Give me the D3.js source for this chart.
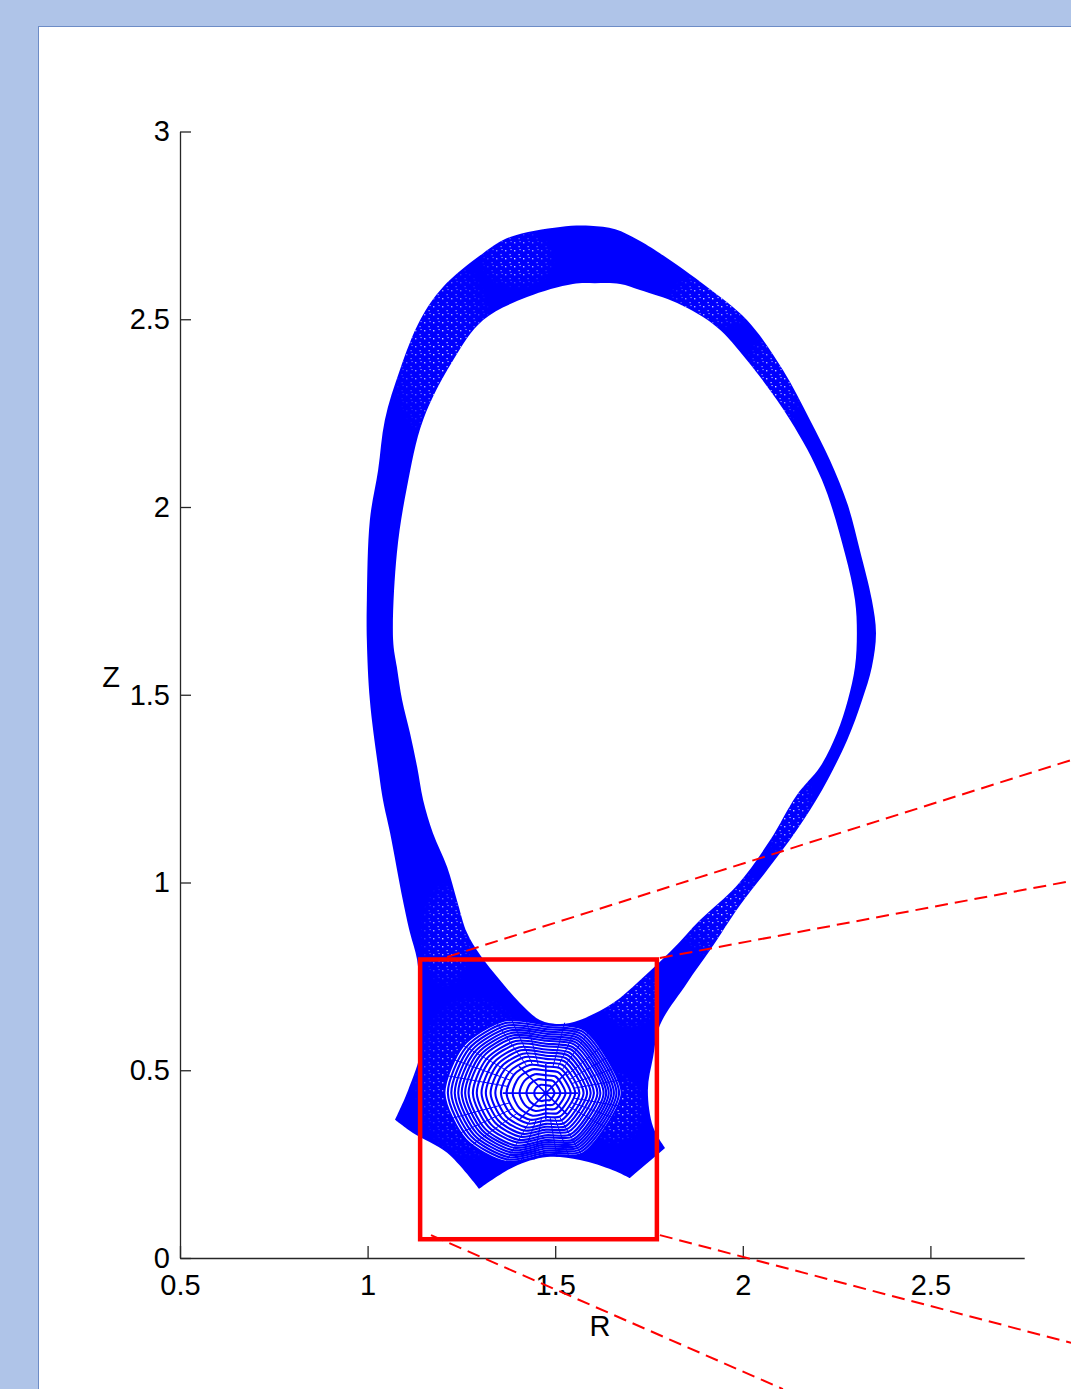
<!DOCTYPE html>
<html>
<head>
<meta charset="utf-8">
<script src="https://cdn.jsdelivr.net/npm/d3@7"></script>
<style>
  html, body { margin: 0; padding: 0; background: #afc4e8; }
  svg { display: block; }
  text { font-family: "Liberation Sans", Arial, Helvetica, sans-serif; fill: #000; }
</style>
</head>
<body>
<svg id="fig" width="1071" height="1389"></svg>
<script>
// ---- axis settings ----
const rDomain = [0.5, 2.75];
const zDomain = [0, 3];
const rTicks = [0.5, 1, 1.5, 2, 2.5];
const zTicks = [0, 0.5, 1, 1.5, 2, 2.5, 3];
const rTickLabels = ["0.5", "1", "1.5", "2", "2.5"];
const zTickLabels = ["0", "0.5", "1", "1.5", "2", "2.5", "3"];

// ---- grid envelope (R, Z) : outer edge of the whole grid ----
// corner points of the divertor legs are listed twice to keep them sharp
const outerEdge = [
  [1.593, 2.749], [1.513, 2.746], [1.380, 2.719], [1.308, 2.676], [1.201, 2.586],
  [1.140, 2.498], [1.086, 2.365], [1.046, 2.232], [1.028, 2.098], [1.006, 1.965],
  [0.998, 1.752], [0.998, 1.646], [1.006, 1.486], [1.028, 1.308], [1.041, 1.220],
  [1.060, 1.132], [1.094, 0.953], [1.113, 0.866], [1.132, 0.794], [1.140, 0.687],
  [1.142, 0.554], [1.108, 0.447], [1.073, 0.368], [1.073, 0.368], [1.121, 0.333],
  [1.212, 0.280], [1.297, 0.184], [1.297, 0.184], [1.388, 0.242], [1.478, 0.269],
  [1.566, 0.261], [1.654, 0.234], [1.699, 0.213], [1.699, 0.213], [1.793, 0.293],
  [1.793, 0.293], [1.761, 0.349], [1.747, 0.447], [1.761, 0.535],
  [1.779, 0.620], [1.851, 0.732], [1.913, 0.820], [1.993, 0.940], [2.065, 1.033],
  [2.144, 1.140], [2.211, 1.246], [2.278, 1.379], [2.318, 1.486], [2.344, 1.574],
  [2.355, 1.664], [2.344, 1.752], [2.312, 1.885], [2.280, 2.005], [2.232, 2.125],
  [2.179, 2.232], [2.107, 2.365], [2.011, 2.498], [1.905, 2.586], [1.779, 2.676],
  [1.720, 2.712], [1.660, 2.740]
];

// ---- inner edge : boundary of the core (empty) region ----
const coreEdge = [
  [1.606, 2.596], [1.547, 2.594], [1.425, 2.559], [1.308, 2.498], [1.228, 2.391],
  [1.148, 2.232], [1.105, 2.053], [1.078, 1.877], [1.068, 1.646], [1.078, 1.574],
  [1.092, 1.486], [1.113, 1.398], [1.132, 1.308], [1.148, 1.220], [1.174, 1.132],
  [1.212, 1.041], [1.238, 0.953], [1.265, 0.866], [1.300, 0.807], [1.353, 0.740],
  [1.406, 0.679], [1.459, 0.634], [1.513, 0.623], [1.566, 0.634], [1.654, 0.679],
  [1.726, 0.740], [1.811, 0.820], [1.886, 0.900], [1.985, 0.993], [2.073, 1.113],
  [2.144, 1.233], [2.206, 1.308], [2.251, 1.398], [2.280, 1.486], [2.299, 1.574],
  [2.304, 1.664], [2.299, 1.752], [2.272, 1.877], [2.211, 2.072], [2.126, 2.232],
  [2.011, 2.391], [1.931, 2.479], [1.825, 2.543], [1.726, 2.578], [1.673, 2.594]
];

// ---- snowflake null and the flux-surface rings around it ----
const nullPoint = [1.475, 0.439];
const ringRadii = [0.027, 0.045, 0.061, 0.077, 0.091, 0.104, 0.117, 0.128, 0.139, 0.149,
                   0.160, 0.169, 0.179, 0.187, 0.195, 0.203, 0.211, 0.219, 0.227, 0.235];
// relative ring extent by direction (degrees, counter-clockwise from +R)
const ringProfile = [
  [0, 0.86], [30, 0.80], [60, 0.84], [90, 0.78], [120, 0.95], [150, 1.08],
  [180, 1.15], [210, 1.05], [240, 0.90], [270, 0.70], [300, 0.80], [330, 0.78]
];
const spokeAngles = [0, 45, 90, 135, 180, 225, 270, 315];
const spokeLength = 0.10;
const radialAngles = [10, 20, 30, 40, 55, 65, 75, 105, 115, 125, 150, 160, 170,
                      195, 205, 215, 240, 250, 260, 280, 290, 300, 330, 340, 350];
const radialSpan = [0.09, 0.24];

// ---- areas where the grid cells open up into speckles: [R, Z, halfR, halfZ] ----
const speckleZones = [
  [1.20, 2.42, 0.14, 0.26], [1.40, 2.66, 0.10, 0.08], [1.92, 2.55, 0.12, 0.08],
  [2.08, 2.33, 0.08, 0.14], [1.21, 0.86, 0.07, 0.14], [1.95, 0.92, 0.13, 0.13],
  [2.12, 1.20, 0.07, 0.14], [1.28, 0.48, 0.16, 0.22], [1.70, 0.70, 0.08, 0.09],
  [1.66, 0.40, 0.08, 0.10]
];

// ---- zoom box and its connector lines ----
const zoomBox = { r0: 1.140, r1: 1.771, z0: 0.050, z1: 0.795 };
const connectors = [
  [[1.212, 0.802], [2.875, 1.326]],
  [[1.779, 0.799], [2.875, 1.004]],
  [[1.169, 0.061], [2.107, -0.349]],
  [[1.779, 0.061], [2.875, -0.226]]
];

// ---------------------------------------------------------------
const svg = d3.select("#fig");

// figure panel
svg.append("rect")
  .attr("x", 38.5).attr("y", 26.5)
  .attr("width", 1100).attr("height", 1400)
  .attr("fill", "#ffffff")
  .attr("stroke", "#6d8cc6").attr("stroke-width", 1);

const x = d3.scaleLinear().domain(rDomain).range([180, 1024.2]);
const y = d3.scaleLinear().domain(zDomain).range([1258, 131.5]);

const line = d3.line().x(d => x(d[0])).y(d => y(d[1]));
const smoothClosed = d3.line().x(d => x(d[0])).y(d => y(d[1]))
  .curve(d3.curveCatmullRomClosed.alpha(0.5));

const blue = "#0000ff";
const defs = svg.append("defs");
defs.append("clipPath").attr("id", "gridClip")
  .append("path").attr("d", smoothClosed(outerEdge));
defs.append("clipPath").attr("id", "bandClip")
  .append("path")
  .attr("d", smoothClosed(outerEdge) + smoothClosed(coreEdge))
  .attr("clip-rule", "evenodd");

// tiny white openings between grid lines
const pat = defs.append("pattern").attr("id", "speckle")
  .attr("patternUnits", "userSpaceOnUse")
  .attr("width", 9).attr("height", 8);
pat.append("rect").attr("x", 1).attr("y", 2).attr("width", 1.4).attr("height", 1.4)
  .attr("fill", "#ffffff");
pat.append("rect").attr("x", 5.5).attr("y", 6).attr("width", 1.2).attr("height", 1.2)
  .attr("fill", "#ffffff");
pat.append("rect").attr("x", 6.5).attr("y", 1).attr("width", 1.1).attr("height", 1.1)
  .attr("fill", "#ffffff");

// soft-edged zones for the speckles
const fade = defs.append("radialGradient").attr("id", "fade");
fade.append("stop").attr("offset", "0%").attr("stop-color", "#fff").attr("stop-opacity", 0.9);
fade.append("stop").attr("offset", "55%").attr("stop-color", "#fff").attr("stop-opacity", 0.6);
fade.append("stop").attr("offset", "100%").attr("stop-color", "#fff").attr("stop-opacity", 0);
const mask = defs.append("mask").attr("id", "speckleMask")
  .attr("maskUnits", "userSpaceOnUse")
  .attr("x", 0).attr("y", 0).attr("width", 1071).attr("height", 1389);
mask.selectAll("ellipse").data(speckleZones).enter().append("ellipse")
  .attr("cx", d => x(d[0])).attr("cy", d => y(d[1]))
  .attr("rx", d => x(d[2]) - x(0)).attr("ry", d => y(0) - y(d[3]))
  .attr("fill", "url(#fade)");

// solid grid band (outer edge minus core)
svg.append("path")
  .attr("d", smoothClosed(outerEdge) + smoothClosed(coreEdge))
  .attr("fill", blue)
  .attr("fill-rule", "evenodd");

svg.append("g").attr("clip-path", "url(#bandClip)")
  .append("rect")
  .attr("x", 0).attr("y", 0).attr("width", 1071).attr("height", 1389)
  .attr("fill", "url(#speckle)")
  .attr("mask", "url(#speckleMask)");

// mesh around the null point
const mesh = svg.append("g").attr("clip-path", "url(#gridClip)");
const cx = x(nullPoint[0]), cy = y(nullPoint[1]);
const pxPerUnit = x(1) - x(0);

const ringLine = rho => d3.lineRadial()
  .angle(d => Math.PI / 2 - d[0] * Math.PI / 180)
  .radius(d => rho * pxPerUnit * d[1])
  .curve(d3.curveCardinalClosed.tension(0.2));

const ringG = mesh.append("g").attr("transform", `translate(${cx},${cy})`);
const outerRho = ringRadii[ringRadii.length - 1];
ringG.append("path")
  .attr("d", ringLine(outerRho)(ringProfile))
  .attr("fill", "#ffffff");

ringG.selectAll("path.ring").data(ringRadii).enter().append("path")
  .attr("class", "ring")
  .attr("d", r => ringLine(r)(ringProfile))
  .attr("fill", "none")
  .attr("stroke", blue)
  .attr("stroke-width", 2.1);

// radial grid lines, scaled with the ring profile in each direction
const profileAt = deg => {
  const a = ((deg % 360) + 360) % 360;
  const i = Math.floor(a / 30), t = (a - i * 30) / 30;
  const p0 = ringProfile[i][1], p1 = ringProfile[(i + 1) % ringProfile.length][1];
  return p0 + (p1 - p0) * t;
};
ringG.selectAll("line.radial").data(radialAngles).enter().append("line")
  .attr("class", "radial")
  .attr("x1", a => radialSpan[0] * pxPerUnit * profileAt(a) * Math.cos(a * Math.PI / 180))
  .attr("y1", a => -radialSpan[0] * pxPerUnit * profileAt(a) * Math.sin(a * Math.PI / 180))
  .attr("x2", a => radialSpan[1] * pxPerUnit * profileAt(a) * Math.cos(a * Math.PI / 180))
  .attr("y2", a => -radialSpan[1] * pxPerUnit * profileAt(a) * Math.sin(a * Math.PI / 180))
  .attr("stroke", blue).attr("stroke-width", 1);

ringG.selectAll("line.spoke").data(spokeAngles).enter().append("line")
  .attr("class", "spoke")
  .attr("x1", 0).attr("y1", 0)
  .attr("x2", a => spokeLength * pxPerUnit * profileAt(a) * Math.cos(a * Math.PI / 180))
  .attr("y2", a => -spokeLength * pxPerUnit * profileAt(a) * Math.sin(a * Math.PI / 180))
  .attr("stroke", blue).attr("stroke-width", 1.6);

ringG.append("circle").attr("r", 2.5).attr("fill", blue);

// ---- axes ----
const axisColor = "#262626";
const xAxis = d3.axisBottom(x)
  .tickValues(rTicks)
  .tickFormat((d, i) => rTickLabels[i])
  .tickSizeInner(-12).tickSizeOuter(0).tickPadding(16);
const yAxis = d3.axisLeft(y)
  .tickValues(zTicks)
  .tickFormat((d, i) => zTickLabels[i])
  .tickSizeInner(-11).tickSizeOuter(0).tickPadding(10);

const gx = svg.append("g").attr("transform", "translate(0,1258)").call(xAxis);
const gy = svg.append("g").attr("transform", "translate(180,0)").call(yAxis);
[gx, gy].forEach(g => {
  g.select(".domain").attr("stroke", axisColor).attr("stroke-width", 1.3);
  g.selectAll(".tick line").attr("stroke", axisColor).attr("stroke-width", 1.3);
  g.selectAll(".tick text")
    .attr("font-size", 29)
    .attr("font-family", "'Liberation Sans', Arial, sans-serif")
    .attr("fill", "#000");
});

svg.append("text").attr("x", 600).attr("y", 1336)
  .attr("text-anchor", "middle").attr("font-size", 29).text("R");
svg.append("text").attr("x", 111).attr("y", 687)
  .attr("text-anchor", "middle").attr("font-size", 29).text("Z");

// ---- zoom box and connectors ----
svg.append("rect")
  .attr("x", x(zoomBox.r0)).attr("y", y(zoomBox.z1))
  .attr("width", x(zoomBox.r1) - x(zoomBox.r0))
  .attr("height", y(zoomBox.z0) - y(zoomBox.z1))
  .attr("fill", "none").attr("stroke", "#ff0000").attr("stroke-width", 4.5);

svg.selectAll("path.connector").data(connectors).enter().append("path")
  .attr("class", "connector")
  .attr("d", d => line(d))
  .attr("fill", "none")
  .attr("stroke", "#ff0000").attr("stroke-width", 2)
  .attr("stroke-dasharray", "13,7");
</script>
</body>
</html>
